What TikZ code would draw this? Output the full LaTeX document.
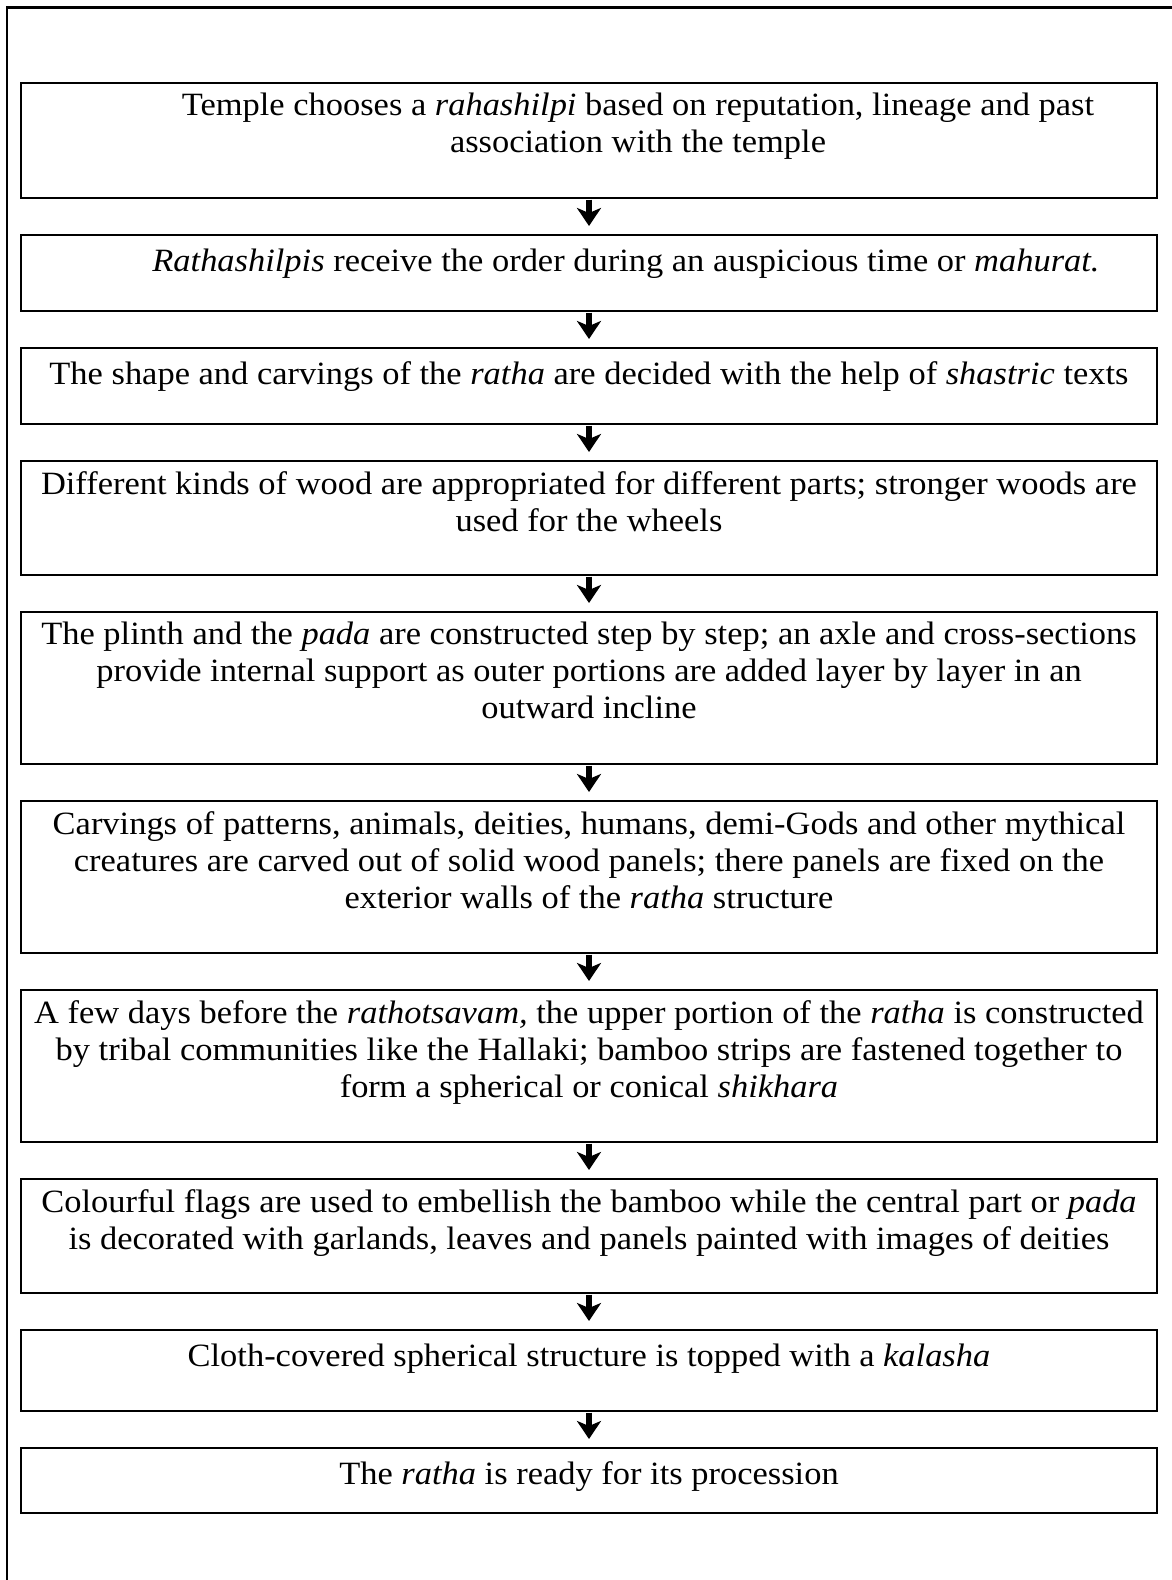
\documentclass[tikz,border=0pt]{standalone}
\usepackage{fontspec}
\setmainfont[FakeStretch=1.06]{Liberation Serif}
\usetikzlibrary{arrows.meta,positioning}
\newcommand{\stepfont}{\fontsize{32.5pt}{37pt}\selectfont}

\begin{document}
\begin{tikzpicture}[
    x=1pt, y=1pt,
    node distance=37pt,
    stepbox/.style={draw, line width=2.6pt, minimum width=1136pt,
                inner sep=0pt, outer sep=0pt},
    steptext/.style={anchor=north, align=center, inner sep=0pt,
                font=\stepfont, execute at begin node=\strut},
    arrow/.style={-{Stealth[length=18pt, width=24pt, inset=5pt]},
                line width=5.5pt, shorten <=1.5pt, shorten >=9pt}
]
\useasboundingbox (0,0) rectangle (1172,-1580);
\draw[line width=2.6pt] (7,-1580) |- (1172,-7.5);

% process steps
\node[stepbox, minimum height=115pt, anchor=north] (s1) at (589,-83) {};
\node[stepbox, minimum height=76pt, below=of s1] (s2) {};
\node[stepbox, minimum height=76pt, below=of s2] (s3) {};
\node[stepbox, minimum height=114pt, below=of s3] (s4) {};
\node[stepbox, minimum height=152pt, below=of s4] (s5) {};
\node[stepbox, minimum height=152pt, below=of s5] (s6) {};
\node[stepbox, minimum height=152pt, below=of s6] (s7) {};
\node[stepbox, minimum height=114pt, below=of s7] (s8) {};
\node[stepbox, minimum height=81pt, below=of s8] (s9) {};
\node[stepbox, minimum height=65pt, below=of s9] (s10) {};

% texts
\node[steptext, below=10pt of s1.north, xshift=49pt] (t1)
    {Temple chooses a \textit{rahashilpi} based on reputation, lineage and past\\
     association with the temple};
\node[steptext, below=10pt of s2.north, xshift=37pt] (t2)
    {\textit{Rathashilpis} receive the order during an auspicious time or \textit{mahurat.}};
\node[steptext, below=10pt of s3.north] (t3)
    {The shape and carvings of the \textit{ratha} are decided with the help of \textit{shastric} texts};
\node[steptext, below=10pt of s4.north] (t4)
    {Different kinds of wood are appropriated for different parts; stronger woods are\\
     used for the wheels};
\node[steptext, below=10pt of s5.north] (t5)
    {The plinth and the \textit{pada} are constructed step by step; an axle and cross-sections\\
     provide internal support as outer portions are added layer by layer in an\\
     outward incline};
\node[steptext, below=10pt of s6.north] (t6)
    {Carvings of patterns, animals, deities, humans, demi-Gods and other mythical\\
     creatures are carved out of solid wood panels; there panels are fixed on the\\
     exterior walls of the \textit{ratha} structure};
\node[steptext, below=10pt of s7.north] (t7)
    {A few days before the \textit{rathotsavam,} the upper portion of the \textit{ratha} is constructed\\
     by tribal communities like the Hallaki; bamboo strips are fastened together to\\
     form a spherical or conical \textit{shikhara}};
\node[steptext, below=10pt of s8.north] (t8)
    {Colourful flags are used to embellish the bamboo while the central part or \textit{pada}\\
     is decorated with garlands, leaves and panels painted with images of deities};
\node[steptext, below=10pt of s9.north] (t9)
    {Cloth-covered spherical structure is topped with a \textit{kalasha}};
\node[steptext, below=10pt of s10.north] (t10)
    {The \textit{ratha} is ready for its procession};

\draw[arrow] (s1) -- (s2);
\draw[arrow] (s2) -- (s3);
\draw[arrow] (s3) -- (s4);
\draw[arrow] (s4) -- (s5);
\draw[arrow] (s5) -- (s6);
\draw[arrow] (s6) -- (s7);
\draw[arrow] (s7) -- (s8);
\draw[arrow] (s8) -- (s9);
\draw[arrow] (s9) -- (s10);

\end{tikzpicture}
\end{document}
